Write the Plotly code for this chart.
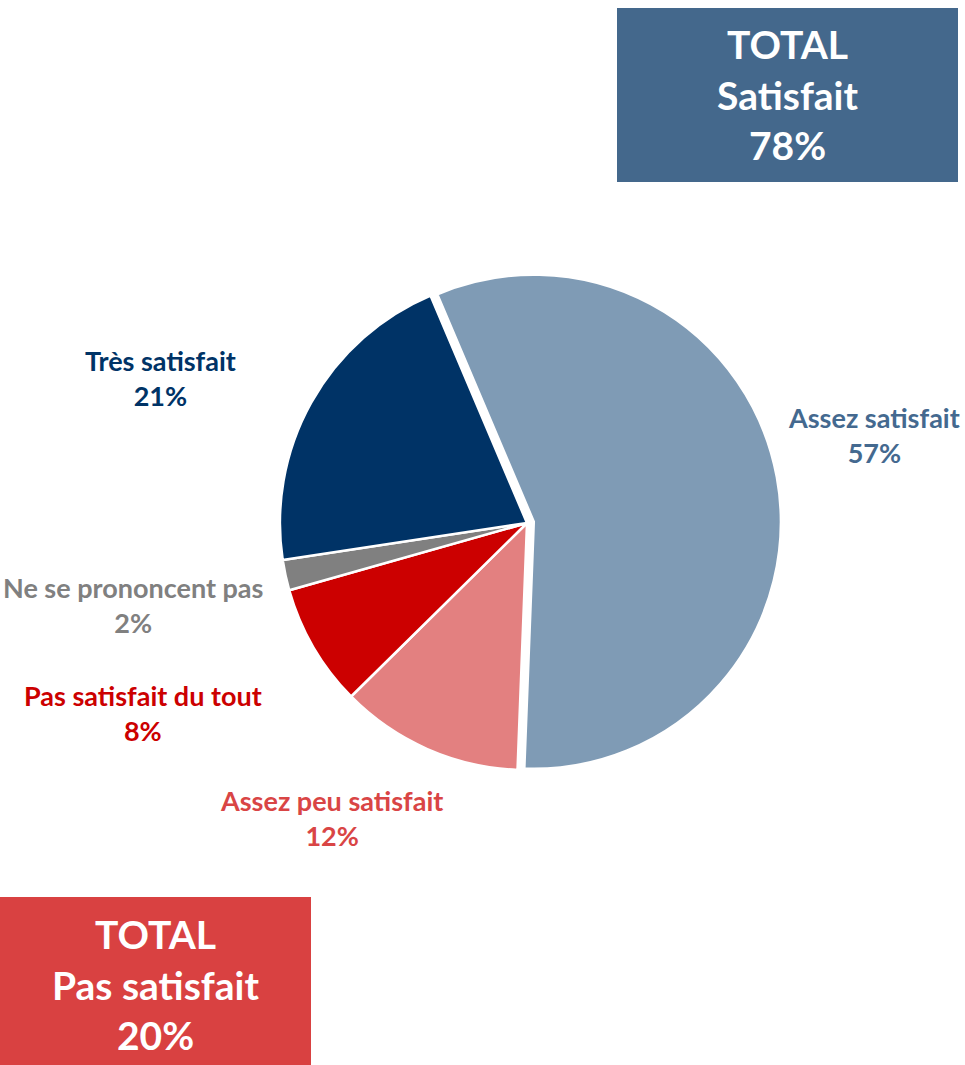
import plotly.graph_objects as go

# Survey answers (percent), clockwise from the top
labels = ["Assez satisfait", "Assez peu satisfait", "Pas satisfait du tout",
          "Ne se prononcent pas", "Très satisfait"]
values = [57, 12, 8, 2, 21]
slice_colors = ["#7f9bb5", "#e38080", "#cc0000", "#808080", "#003366"]
label_colors = ["#44698f", "#d94545", "#cc0000", "#808080", "#003366"]

# where each outside label sits (pixels from top-left)
label_pos = [(874, 435), (331, 818), (143, 713), (133, 605), (160, 378)]

total_sat = 78
total_unsat = 20

W, H = 965, 1065
FONT = "Lato"

fig = go.Figure()

fig.add_trace(go.Pie(
    labels=labels,
    values=values,
    sort=False,
    direction="clockwise",
    rotation=-23,
    pull=[0.028, 0, 0, 0, 0],
    marker=dict(colors=slice_colors, line=dict(color="white", width=2.5)),
    textinfo="none",
    hoverinfo="label+percent",
    showlegend=False,
    domain=dict(x=[273 / W, 781 / W], y=[(H - 777) / H, (H - 269) / H]),
))

# outside labels
for lab, val, col, (px, py) in zip(labels, values, label_colors, label_pos):
    fig.add_annotation(
        x=px / W, y=1 - py / H, xref="paper", yref="paper",
        text=f"<b>{lab}<br>{val}%</b>", showarrow=False,
        font=dict(family=FONT, size=27, color=col),
        align="center", xanchor="center", yanchor="middle",
    )

# total boxes
fig.add_shape(type="rect", xref="paper", yref="paper",
              x0=617 / W, x1=958 / W, y0=1 - 182 / H, y1=1 - 8 / H,
              fillcolor="#44688c", line=dict(width=0), layer="below")
fig.add_annotation(
    x=787.5 / W, y=1 - 95 / H, xref="paper", yref="paper",
    text=f"<b>TOTAL<br>Satisfait<br>{total_sat}%</b>", showarrow=False,
    font=dict(family=FONT, size=39, color="white"),
    align="center", xanchor="center", yanchor="middle",
)

fig.add_shape(type="rect", xref="paper", yref="paper",
              x0=0, x1=311 / W, y0=0, y1=1 - 897 / H,
              fillcolor="#d94141", line=dict(width=0), layer="below")
fig.add_annotation(
    x=155 / W, y=1 - 984 / H, xref="paper", yref="paper",
    text=f"<b>TOTAL<br>Pas satisfait<br>{total_unsat}%</b>", showarrow=False,
    font=dict(family=FONT, size=39, color="white"),
    align="center", xanchor="center", yanchor="middle",
)

fig.update_layout(
    width=W, height=H,
    margin=dict(l=0, r=0, t=0, b=0),
    paper_bgcolor="white",
    plot_bgcolor="white",
)

# drop the page's default body margin so the figure sits at the window corner
fig.write_html("out.html", config={"displayModeBar": False},
               post_script="document.body.style.margin='0';")
